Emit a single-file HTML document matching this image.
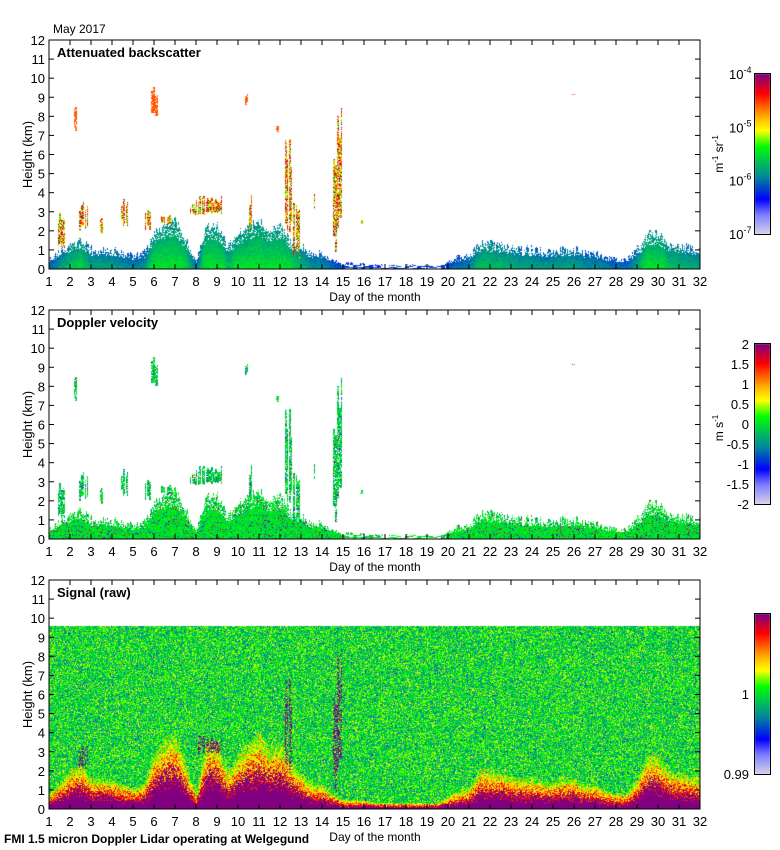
<!DOCTYPE html>
<html><head><meta charset="utf-8"><style>
body{margin:0;background:#fff;width:780px;height:850px;overflow:hidden;position:relative;font-family:"Liberation Sans",sans-serif}
canvas{position:absolute;left:0;top:0}
svg{position:absolute;left:0;top:0}
</style></head><body>
<canvas id="cv" width="780" height="850"></canvas>
<svg id="sv" width="780" height="850"></svg>
<script>
// ---- data ----
const blDays = [1,1.5,2,2.5,3,3.5,4,4.5,5,5.5,6,6.5,7,7.5,8,8.5,9,9.5,10,10.5,11,11.5,12,12.5,13,13.5,14,14.5,15,15.5,16,16.5,17,17.5,18,18.5,19,19.5,20,20.5,21,21.5,22,22.5,23,23.5,24,24.5,25,25.5,26,26.5,27,27.5,28,28.5,29,29.5,30,30.5,31,31.5,32];
const blTop = [0.5,0.9,1.3,1.5,1.0,1.0,1.0,0.8,0.7,0.8,1.8,2.3,2.5,1.5,0.5,2.2,2.2,1.2,1.8,2.2,2.5,2.0,2.2,1.5,1.2,0.8,0.8,0.5,0.3,0.3,0.3,0.2,0.2,0.2,0.2,0.2,0.2,0.2,0.4,0.6,0.7,1.3,1.3,1.2,1.1,1.0,1.0,0.9,0.9,1.0,1.0,0.8,0.8,0.6,0.5,0.5,1.0,1.8,1.8,1.3,1.2,1.1,1.0];
// cloud / aerosol layers: start day, end day, base km, top km
const cloudStart = [1.4,2.15,2.4,3.4,3.6,4.4,5.55,5.85,6.3,7.7,8.0,10.3,10.5,11.8,12.2,12.6,13.55,14.5,14.7,15.8,25.85];
const cloudEnd   = [1.75,2.32,2.85,3.55,3.7,4.75,5.85,6.15,6.85,8.0,9.25,10.45,10.65,11.95,12.55,12.95,13.7,14.7,14.95,15.95,26.0];
const cloudBase  = [1.0,7.2,1.8,1.8,3.2,2.2,2.0,8.0,2.3,2.8,2.8,8.6,2.0,7.2,1.2,0.5,3.0,0.5,2.0,2.3,9.1];
const cloudTop   = [3.0,9.1,3.8,2.7,3.4,3.7,3.2,9.6,2.9,3.5,3.9,9.2,3.9,7.6,7.2,4.5,4.5,6.0,8.5,2.6,9.2];
const xTicks = [1,2,3,4,5,6,7,8,9,10,11,12,13,14,15,16,17,18,19,20,21,22,23,24,25,26,27,28,29,30,31,32];
const yTicks = [0,1,2,3,4,5,6,7,8,9,10,11,12];
const titles = ["Attenuated backscatter","Doppler velocity","Signal (raw)"];
const cb1 = ["10","10","10","10"], cb1e=["-7","-6","-5","-4"];
const cb2 = ["-2","-1.5","-1","-0.5","0","0.5","1","1.5","2"];

// ---- layout ----
const L=49, R=700, PW=R-L, PH=229, tops=[40,310,580];
const xs=d=>L+(d-1)/31*PW;
const ys=(p,h)=>tops[p]+PH-h/12*PH;

const stops=[[0,[216,212,232]],[0.12,[128,128,255]],[0.22,[0,0,255]],[0.35,[0,128,160]],[0.45,[0,190,90]],[0.55,[0,255,0]],[0.65,[255,255,0]],[0.72,[255,192,0]],[0.8,[255,96,0]],[0.88,[255,0,0]],[0.94,[192,0,64]],[1,[128,0,128]]];
function cmap(v){v=Math.max(0,Math.min(1,v));for(let i=1;i<stops.length;i++){if(v<=stops[i][0]){const a=stops[i-1],b=stops[i],t=(v-a[0])/(b[0]-a[0]);return [0,1,2].map(k=>Math.round(a[1][k]+(b[1][k]-a[1][k])*t));}}return stops[stops.length-1][1];}
function hash(a,b){let h=(a*374761393+b*668265263)|0;h=(h^(h>>>13))*1274126177|0;return ((h^(h>>>16))>>>0)/4294967296;}
function blAt(d){for(let i=1;i<blDays.length;i++)if(d<=blDays[i]){const t=(d-blDays[i-1])/(blDays[i]-blDays[i-1]);return blTop[i-1]+(blTop[i]-blTop[i-1])*t;}return blTop[blTop.length-1];}
function cloudAt(d,h,x){for(let i=0;i<cloudStart.length;i++){if(d>=cloudStart[i]&&d<=cloudEnd[i]){
  const span=cloudTop[i]-cloudBase[i];
  const tp=cloudBase[i]+span*(0.6+0.4*hash(x>>1,i*31+3));
  const bs=cloudBase[i]+span*0.25*hash(x>>1,i*53+9);
  if(h>=bs&&h<=tp&&hash(x,i*17+1)<0.85)return i;}}return -1;}

const cv=document.getElementById('cv'),ctx=cv.getContext('2d');
const img=ctx.createImageData(780,850);
function put(x,y,c){const o=(y*780+x)*4;img.data[o]=c[0];img.data[o+1]=c[1];img.data[o+2]=c[2];img.data[o+3]=255;}
for(let x=0;x<PW;x++){
  const d=1+x/PW*31, bl=blAt(d), jag=(hash(x,7)-0.5)*0.5*Math.min(1,bl);
  for(let y=0;y<PH;y++){
    const h=(PH-y-0.5)/PH*12, n=hash(x,y), n2=hash(y,x+999);
    const ci=cloudAt(d,h,x), inBL=h<bl+jag && hash(x,y+333)<(h<bl*0.7?1:0.75) && !(bl<0.35 && hash(x>>2,y+77)<0.5);
    const cloudVis=ci>=0 && n<0.85;
    let v=null;
    if(cloudVis){const c=ci; v=(cloudTop[c]>7.5 && c!==14 && c!==18)?0.78+n*0.06:(0.52+0.48*n2);}
    else if(inBL){const z=h/Math.max(bl,0.3);v=0.25+0.26*Math.min(1,bl/1.6)*(1-0.5*z)+(n-0.5)*0.08;}
    if(v!==null)put(L+x,tops[0]+y,cmap(v));
    if(v!==null){let w=0.5+(n-0.5)*0.12; if(n2>0.96)w=0.2; else if(n2<0.03)w=0.92; if(cloudVis&&n2>0.85)w=0.3;put(L+x,tops[1]+y,cmap(w));}
    if(h<9.6){let s;
      const p=h/Math.max(bl,0.15)+(n-0.5)*0.7;
      const pt=0.5+0.25*Math.min(1,bl/2);
      if(ci>=0&&(ci===14||ci===17||ci===18||ci===10||ci===4||ci===2)&&hash(x,y+5)<0.45)s=1;
      else if(p<pt)s=1;
      else if(p<0.95)s=0.8+n2*0.14;
      else if(p<1.35)s=0.64+n2*0.12;
      else s=0.5+(n-0.5)*0.3+(n2>0.97?-0.2:0);
      put(L+x,tops[2]+y,cmap(s));}
  }
}
const cbTop=[74,344,614];
for(const t of cbTop)for(let y=0;y<160;y++){const c=cmap(1-y/160);for(let x=755;x<770;x++)put(x,t+y,c);}
ctx.putImageData(img,0,0);

// ---- SVG overlay ----
const sv=document.getElementById('sv'),NS='http://www.w3.org/2000/svg';
function el(tag,attrs,txt){const e=document.createElementNS(NS,tag);for(const k in attrs)e.setAttribute(k,attrs[k]);if(txt!==undefined)e.textContent=txt;sv.appendChild(e);return e;}
let t=el('text',{x:53,y:33,'font-size':12});t.textContent='May 2017';


for(let p=0;p<3;p++){
  const T=tops[p];
  const fr=el('rect',{x:L,y:T,width:PW,height:PH,fill:'none',stroke:'#000','stroke-width':1});
  
  
  xTicks.forEach(d=>{const x=xs(d);
    el('line',{x1:x,y1:T,x2:x,y2:T+5,stroke:'#000'});el('line',{x1:x,y1:T+PH,x2:x,y2:T+PH-5,stroke:'#000'});
    const lb=el('text',{x:x,y:T+PH+17,'font-size':13,'text-anchor':'middle'},String(d));
    
    });
  yTicks.forEach(h=>{const y=ys(p,h);
    el('line',{x1:L,y1:y,x2:L+5,y2:y,stroke:'#000'});el('line',{x1:R,y1:y,x2:R-5,y2:y,stroke:'#000'});
    const lb=el('text',{x:45,y:y+5,'font-size':13,'text-anchor':'end'},String(h));
    
    });
  const ti=el('text',{x:57,y:T+17,'font-size':13,'font-weight':'bold'},titles[p]);
  
  
  const yl=el('text',{x:0,y:0,'font-size':13,'text-anchor':'middle',transform:`translate(32,${T+PH/2}) rotate(-90)`},'Height (km)');
  
  
  const xl=el('text',{x:375,y:T+PH+32,'font-size':12,'text-anchor':'middle'},'Day of the month');
  
  
  const cb=el('rect',{x:754.5,y:cbTop[p]-0.5,width:16,height:161,fill:'none',stroke:'#000'});
  
  
}
cb1.forEach((b,i)=>{const y=cbTop[0]+160-i*160/3;const g=el('text',{x:729,y:y+5,'font-size':13});g.innerHTML=b+'<tspan dy="-6" font-size="9">'+cb1e[i]+'</tspan>';
  
  });
cb2.forEach((b,i)=>{const y=cbTop[1]+160-i*20;const g=el('text',{x:749,y:y+5,'font-size':13,'text-anchor':'end'},b);
  
  });
[['1',cbTop[2]+80],['0.99',cbTop[2]+160]].forEach(a=>{const g=el('text',{x:749,y:a[1]+5,'font-size':13,'text-anchor':'end'},a[0]);
  
  });
let u=el('text',{x:0,y:0,'font-size':12,'text-anchor':'middle',transform:'translate(723,154) rotate(-90)'});u.innerHTML='m<tspan dy="-5" font-size="8">-1</tspan><tspan dy="5"> sr</tspan><tspan dy="-5" font-size="8">-1</tspan>';


u=el('text',{x:0,y:0,'font-size':12,'text-anchor':'middle',transform:'translate(723,428) rotate(-90)'});u.innerHTML='m s<tspan dy="-5" font-size="8">-1</tspan>';


const ft=el('text',{x:4,y:843,'font-size':12,'font-weight':'bold'},'FMI 1.5 micron Doppler Lidar operating at Welgegund');


</script>
</body></html>
